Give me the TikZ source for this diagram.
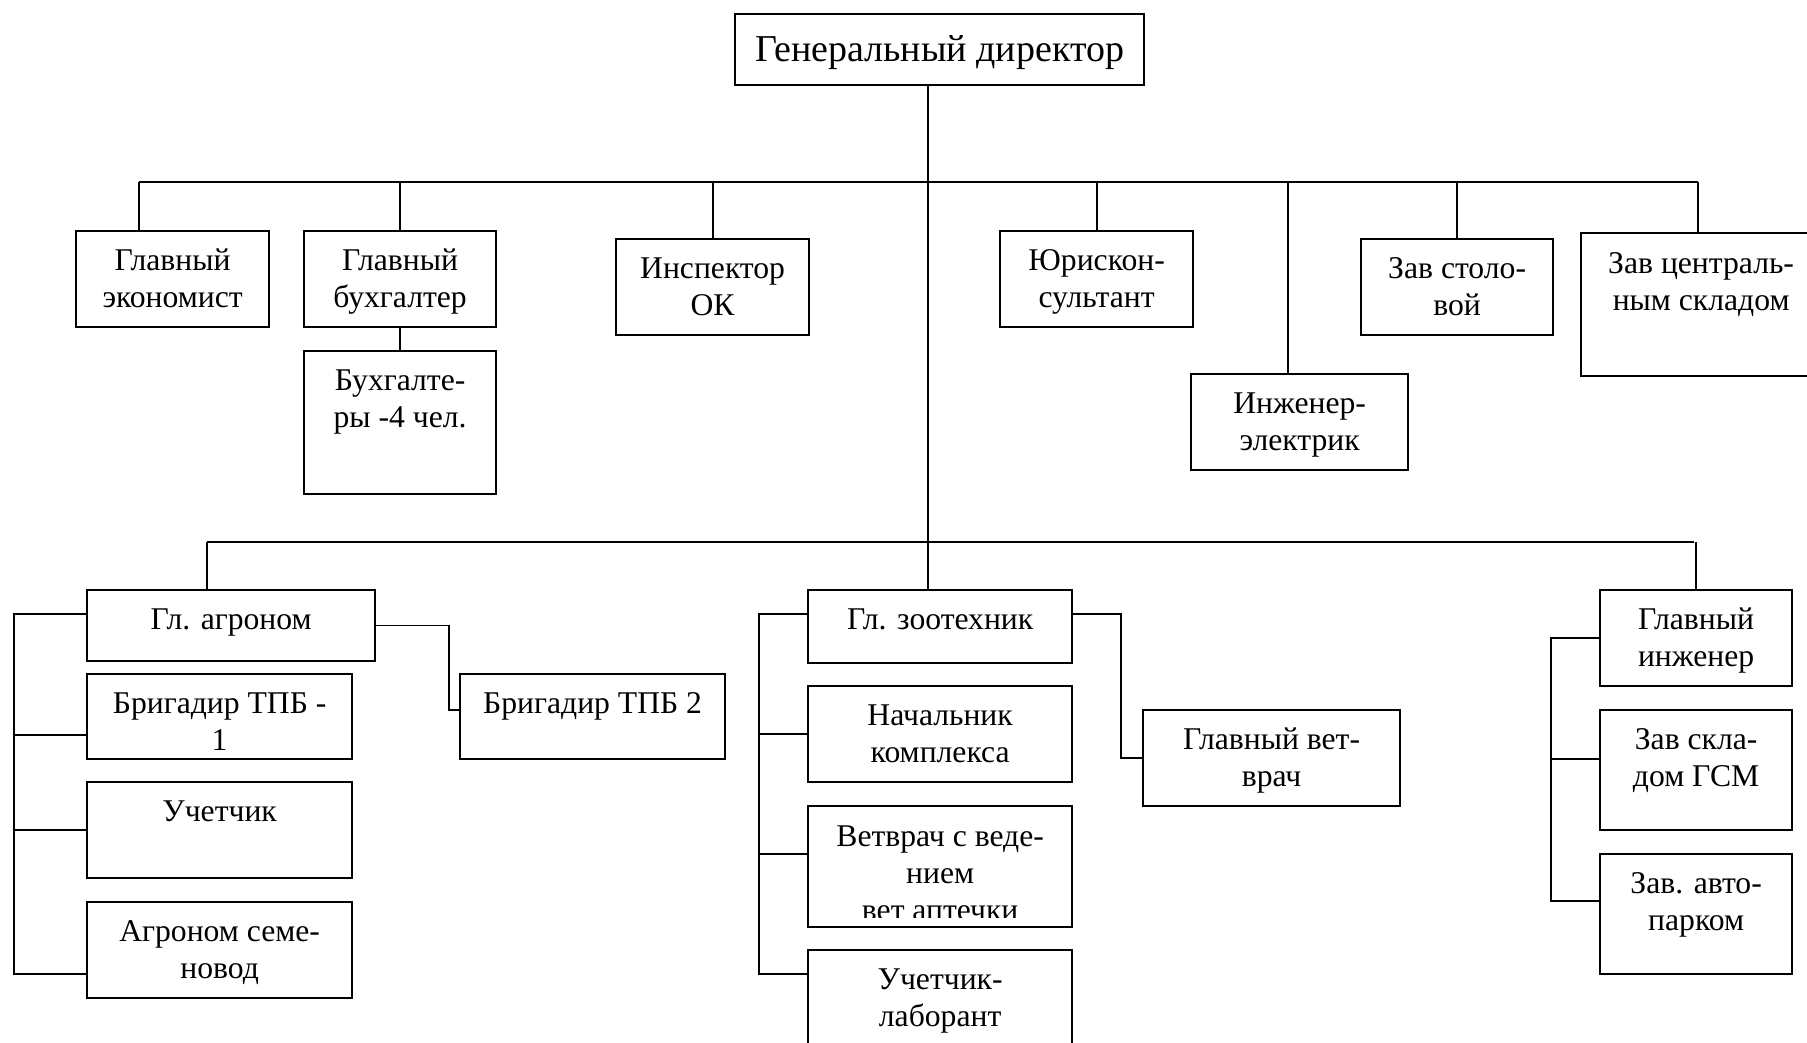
\documentclass[tikz,border=0pt]{standalone}
\usepackage{fontspec}
\setmainfont{Liberation Serif}
\usetikzlibrary{positioning,calc}

\begin{document}
\begin{tikzpicture}[x=0.01cm, y=-0.01cm,
      unit/.style={draw, line width=0.6pt, anchor=north west, inner sep=0pt,
                   align=center, text height=0.39cm,
                   font=\fontsize{9}{10.5}\selectfont},
      twoline/.style={text height=0.76cm},
      threeline/.style={text height=1.14cm},
      link/.style={line width=0.5pt}]
    \useasboundingbox (0,0) rectangle (1807,1043);
    \node[unit, minimum width=4.09cm, text height=0.47cm, text depth=0.24cm,
          font=\fontsize{10.8}{13}\selectfont] (gen) at (734,13) {Генеральный директор};
    \node[unit, twoline, minimum width=1.93cm, text depth=0.20cm] (econ) at (75,230) {Главный\\экономист};
    \node[unit, twoline, minimum width=1.92cm, text depth=0.20cm] (buh) at (303,230) {Главный\\бухгалтер};
    \node[unit, twoline, minimum width=1.92cm, text depth=0.67cm] (buhs) at (303,350) {Бухгалте-\\ры -4 чел.};
    \node[unit, twoline, minimum width=1.93cm, text depth=0.20cm] (insp) at (615,238) {Инспектор\\ОК};
    \node[unit, twoline, minimum width=1.93cm, text depth=0.20cm] (jur) at (999,230) {Юрискон-\\сультант};
    \node[unit, twoline, minimum width=2.17cm, text depth=0.20cm] (elec) at (1190,373) {Инженер-\\электрик};
    \node[unit, twoline, minimum width=1.92cm, text depth=0.20cm] (stol) at (1360,238) {Зав столо-\\вой};
    \node[unit, minimum width=2.40cm, text height=0.77cm, text depth=0.66cm] (sklad) at (1580,232) {Зав централь-\\ным складом};

    \node[unit, minimum width=2.88cm, text depth=0.32cm] (agron) at (86,589) {Гл. агроном};
    \node[unit, twoline, minimum width=2.65cm, text depth=0.09cm] (tpb1) at (86,673) {Бригадир ТПБ -\\1};
    \node[unit, minimum width=2.65cm, text depth=0.57cm] (uchet) at (86,781) {Учетчик};
    \node[unit, twoline, minimum width=2.65cm, text depth=0.20cm] (semen) at (86,901) {Агроном семе-\\новод};
    \node[unit, minimum width=2.65cm, text depth=0.46cm] (tpb2) at (459,673) {Бригадир ТПБ 2};

    \node[unit, minimum width=2.64cm, text depth=0.34cm] (zoot) at (807,589) {Гл. зоотехник};
    \node[unit, twoline, minimum width=2.64cm, text depth=0.20cm] (nach) at (807,685) {Начальник\\комплекса};
    \begin{scope}[even odd rule]
      \clip (0,0) rectangle (1807,1043) (810,917) rectangle (1068,924);
      \node[unit, threeline, minimum width=2.64cm, text depth=0.07cm] (vet) at (807,805) {Ветврач с веде-\\нием\\вет аптечки};
    \end{scope}
    \node[unit, twoline, minimum width=2.64cm, text depth=0.74cm] (lab) at (807,949) {Учетчик-\\лаборант};
    \node[unit, twoline, minimum width=2.57cm, text depth=0.20cm] (glvet) at (1142,709) {Главный вет-\\врач};

    \node[unit, twoline, minimum width=1.92cm, text depth=0.20cm] (gleng) at (1599,589) {Главный\\инженер};
    \node[unit, twoline, minimum width=1.92cm, text depth=0.44cm] (gsm) at (1599,709) {Зав скла-\\дом ГСМ};
    \node[unit, twoline, minimum width=1.92cm, text depth=0.44cm] (avto) at (1599,853) {Зав. авто-\\парком};

    \draw[link] ([xshift=-0.115cm]gen.south) -- ([xshift=-0.115cm]gen.south |- zoot.north);
    \coordinate (upW) at (139,182);
    \coordinate (upE) at (1698,182);
    \draw[link] (upW) -- (upE);
    \draw[link] (upW) -- (upW |- econ.north);
    \foreach \n in {buh,insp,jur,stol}
      \draw[link] (\n.north) -- (\n.north |- upW);
    \draw[link] ([xshift=-0.115cm]elec.north) -- ([xshift=-0.115cm]elec.north |- upW);
    \draw[link] (upE) -- (upE |- sklad.north);
    \draw[link] (buh) -- (buhs);

    \coordinate (loW) at (207,542);
    \coordinate (loE) at (1694,542);
    \draw[link] (loW) -- (loE);
    \draw[link] (loW) -- (loW |- agron.north);
    \draw[link] (gleng.north) -- (gleng.north |- loE);

    \draw[link] ([yshift=0.115cm]agron.west) -- ++(-72,0) |- ([yshift=-0.24cm]semen.west);
    \draw[link] ([yshift=-0.185cm]tpb1.west) -- ++(-72,0);
    \draw[link] (uchet.west) -- ++(-72,0);
    \draw[link] (agron.east) -- ++(73,0) |- ([yshift=0.065cm]tpb2.west);

    \draw[link] ([yshift=0.125cm]zoot.west) -- ++(-48,0) |- ([yshift=0.51cm]lab.west);
    \draw[link] (nach.west) -- ++(-48,0);
    \draw[link] ([yshift=0.125cm]vet.west) -- ++(-48,0);
    \draw[link] ([yshift=0.125cm]zoot.east) -- ++(48,0) |- (glvet.west);

    \draw[link] (gleng.west) -- ++(-48,0) |- ([yshift=0.13cm]avto.west);
    \draw[link] ([yshift=0.11cm]gsm.west) -- ++(-48,0);
  \end{tikzpicture}
\end{document}
